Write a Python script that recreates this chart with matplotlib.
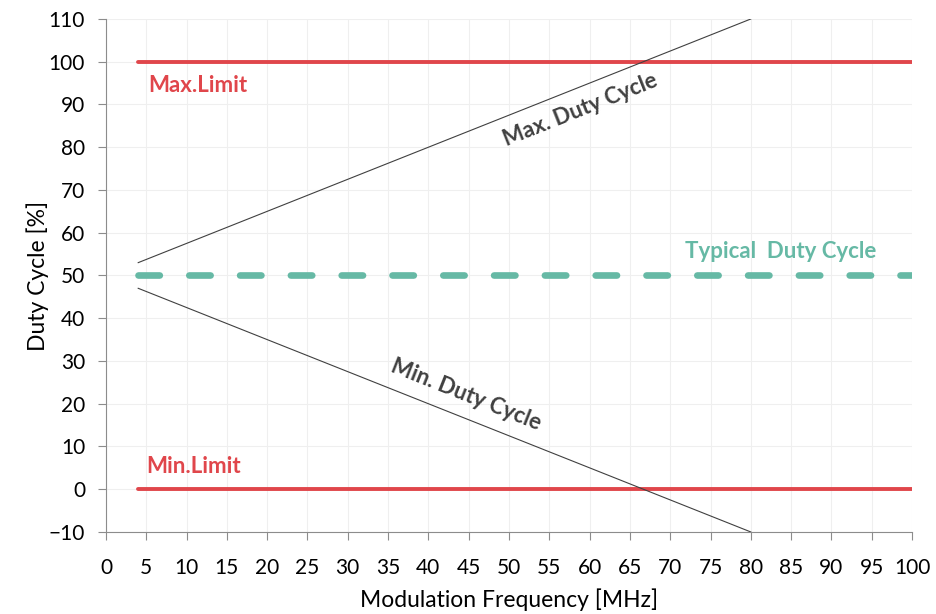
import matplotlib
matplotlib.use('Agg')
import matplotlib.pyplot as plt

plt.rcParams['font.family'] = ['Lato', 'DejaVu Sans']

# data
freq_span = [4, 80]
max_duty = [53, 110]
min_duty = [47, -10]
limit_span = [4, 100]
max_limit = [100, 100]
min_limit = [0, 0]
typical = [50, 50]

red = '#e0464b'
teal = '#66b9a5'
dark = '#404040'

fig = plt.figure(figsize=(9.36, 6.14), dpi=100)
ax = fig.add_axes([0.1132, 0.1336, 0.8612, 0.8355])

ax.plot(limit_span, max_limit, color=red, lw=2.8, solid_capstyle='round', zorder=3)
ax.plot(limit_span, min_limit, color=red, lw=2.8, solid_capstyle='round', zorder=3)
ax.plot(limit_span, typical, color=teal, lw=4.8, linestyle=(0, (3.2, 4.42)),
        dash_capstyle='round', zorder=3)
ax.plot(freq_span, max_duty, color=dark, lw=0.8, zorder=4)
ax.plot(freq_span, min_duty, color=dark, lw=0.8, zorder=4)

ax.text(5.2, 94.5, 'Max.Limit', color=red, fontsize=16, fontweight='bold', va='center')
ax.text(5.0, 5.2, 'Min.Limit', color=red, fontsize=16, fontweight='bold', va='center')
ax.text(71.8, 55.7, 'Typical  Duty Cycle', color=teal, fontsize=16,
        fontweight='bold', va='center')
ax.text(58.8, 88.8, 'Max. Duty Cycle', color=dark, fontsize=16, fontweight='bold',
        rotation=21.7, ha='center', va='center', rotation_mode='anchor')
ax.text(44.7, 22.0, 'Min. Duty Cycle', color=dark, fontsize=16, fontweight='bold',
        rotation=-21.7, ha='center', va='center', rotation_mode='anchor')

ax.set_xlim(0, 100)
ax.set_ylim(-10, 110)
ax.set_xticks(range(0, 101, 5))
ax.set_yticks(range(-10, 111, 10))
ax.grid(True, color='#efefef', lw=0.8)
ax.set_axisbelow(True)
for s in ['top', 'right']:
    ax.spines[s].set_visible(False)
for s in ['left', 'bottom']:
    ax.spines[s].set_color('#8c8c8c')
ax.tick_params(colors='#8c8c8c', labelcolor='black', length=6, width=0.8,
               labelsize=15)
ax.tick_params(axis='x', pad=13)
ax.tick_params(axis='y', pad=9)

ax.set_xlabel('Modulation Frequency [MHz]', fontsize=16.5, labelpad=7)
ax.set_ylabel('Duty Cycle [%]', fontsize=16.5, labelpad=0)

fig.savefig('out.png', dpi=100)
